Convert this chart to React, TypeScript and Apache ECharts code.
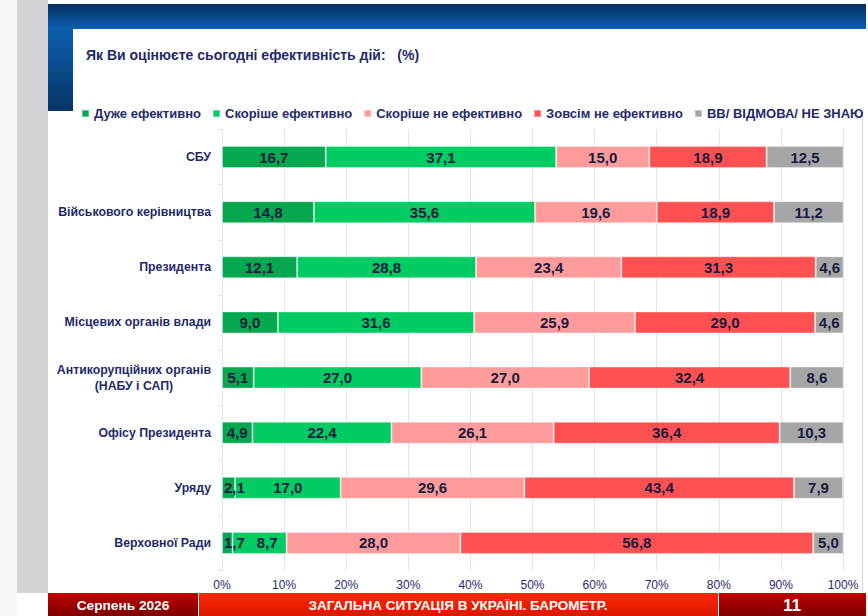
import React, { useEffect, useRef } from "react";
import * as echarts from "echarts";

const categories = [
    "СБУ",
    "Військового керівництва",
    "Президента",
    "Місцевих органів влади",
    "Антикорупційних органів\n(НАБУ і САП)",
    "Офісу Президента",
    "Уряду",
    "Верховної Ради",
];

const seriesNames = [
    "Дуже ефективно",
    "Скоріше ефективно",
    "Скоріше не ефективно",
    "Зовсім не ефективно",
    "ВВ/ ВІДМОВА/ НЕ ЗНАЮ",
];

const veryEffective = [16.7, 14.8, 12.1, 9.0, 5.1, 4.9, 2.1, 1.7];
const ratherEffective = [37.1, 35.6, 28.8, 31.6, 27.0, 22.4, 17.0, 8.7];
const ratherNotEffective = [15.0, 19.6, 23.4, 25.9, 27.0, 26.1, 29.6, 28.0];
const notEffectiveAtAll = [18.9, 18.9, 31.3, 29.0, 32.4, 36.4, 43.4, 56.8];
const dontKnow = [12.5, 11.2, 4.6, 4.6, 8.6, 10.3, 7.9, 5.0];

const xTicks = [0, 10, 20, 30, 40, 50, 60, 70, 80, 90, 100];

const colors = ["#05a84e", "#00cc63", "#ff9b9b", "#ff5151", "#a6a6a6"];
const navy = "#1f2a6b";
const font = "'Liberation Sans', Arial, sans-serif";

const gridLeft = 222;
const gridRight = 25;
const labelFont = `bold 15px ${font}`;

const fmt = (v: number) => v.toFixed(1).replace(".", ",");

const App: React.FC = () => {
    const chartRef = useRef<HTMLDivElement>(null);

    useEffect(() => {
        if (!chartRef.current) return;
        const chart = echarts.init(chartRef.current, undefined, { renderer: "svg" });

        const allSeries = [veryEffective, ratherEffective, ratherNotEffective, notEffectiveAtAll, dontKnow];

        // labels that do not fit their segment are pushed right, like the original slide
        const ctx = document.createElement("canvas").getContext("2d")!;
        ctx.font = labelFont;
        const pxPerUnit = (868 - gridLeft - gridRight) / 100;
        const offsets: number[][] = allSeries.map(() => []);
        categories.forEach((_, j) => {
            let start = 0;
            let prevRight = 0;
            allSeries.forEach((values, i) => {
                const v = values[j];
                const w = ctx.measureText(fmt(v)).width;
                const segStart = start * pxPerUnit;
                const center = (start + v / 2) * pxPerUnit;
                let left = center - w / 2;
                const minLeft = Math.max(segStart + 2, i === 0 ? 0 : prevRight + 12);
                let dx = 0;
                if (left < minLeft && (v * pxPerUnit < w + 4 || left < prevRight + 12)) {
                    dx = minLeft - left;
                    left = minLeft;
                }
                offsets[i][j] = dx;
                prevRight = left + w;
                start += v;
            });
        });

        const option = {
            animation: false,
            textStyle: { fontFamily: font },
            legend: {
                left: 76,
                top: 102,
                width: 800,
                itemWidth: 7,
                itemHeight: 7,
                itemGap: 11,
                icon: "rect",
                textStyle: { color: navy, fontWeight: "bold", fontSize: 13, fontFamily: font },
                data: seriesNames,
            },
            grid: { left: gridLeft, right: gridRight, top: 129.5, bottom: 45.5, containLabel: false },
            xAxis: {
                type: "value",
                min: 0,
                max: 100,
                interval: 10,
                axisLine: { show: false },
                axisTick: { show: false },
                axisLabel: {
                    color: navy,
                    fontSize: 12,
                    fontFamily: font,
                    margin: 8,
                    formatter: (v: number) => (xTicks.includes(v) ? v + "%" : ""),
                },
                splitLine: { lineStyle: { color: "#dbe4f6", width: 1 } },
            },
            yAxis: {
                type: "category",
                inverse: true,
                data: categories,
                axisLine: { show: true, lineStyle: { color: "#dfe6f3" } },
                axisTick: { show: true, length: 4, lineStyle: { color: "#d9e1ef" } },
                axisLabel: {
                    margin: 11,
                    formatter: (v: string) => v.split("\n").map((s) => `{c|${s}}`).join("\n"),
                    rich: {
                        c: {
                            align: "center",
                            color: navy,
                            fontWeight: "bold",
                            fontSize: 12.3,
                            lineHeight: 16,
                            fontFamily: font,
                        },
                    },
                },
            },
            series: allSeries.map((values, i) => ({
                name: seriesNames[i],
                type: "bar",
                stack: "total",
                barWidth: 22,
                data: values.map((v, j) => ({
                    value: v,
                    label: { offset: [offsets[i][j], 0] },
                })),
                itemStyle: {
                    color: colors[i],
                    borderColor: "rgba(255,255,255,0.35)",
                    borderWidth: 1,
                },
                label: {
                    show: true,
                    position: "inside",
                    color: "#171b40",
                    fontWeight: "bold",
                    fontSize: 15,
                    fontFamily: font,
                    formatter: (p: any) => fmt(Number(p.value)),
                },
            })),
            graphic: [
                { type: "rect", z: -20, shape: { x: 0, y: 0, width: 17, height: 616 }, style: { fill: "#f7f7f7" } },
                { type: "rect", z: -20, shape: { x: 17, y: 0, width: 31, height: 593 }, style: { fill: "#d4d4d6" } },
                { type: "line", z: -20, shape: { x1: 862.5, y1: 111, x2: 862.5, y2: 593 }, style: { stroke: "#d8d8d8", lineWidth: 1 } },
                {
                    type: "rect",
                    z: -10,
                    shape: { x: 48, y: 4, width: 818, height: 25 },
                    style: {
                        fill: new echarts.graphic.LinearGradient(0, 0, 0, 1, [
                            { offset: 0, color: "#042f60" },
                            { offset: 1, color: "#0c5fb0" },
                        ]),
                    },
                },
                {
                    type: "rect",
                    z: -10,
                    shape: { x: 48, y: 29, width: 25, height: 82 },
                    style: {
                        fill: new echarts.graphic.LinearGradient(0, 0, 0, 1, [
                            { offset: 0, color: "#0c5fb0" },
                            { offset: 1, color: "#053566" },
                        ]),
                    },
                },
                {
                    type: "text",
                    left: 86,
                    top: 48,
                    style: {
                        text: "Як Ви оцінюєте сьогодні ефективність дій:   (%)",
                        fill: navy,
                        font: `bold 14px ${font}`,
                    },
                },
                {
                    type: "rect",
                    shape: { x: 48, y: 593, width: 150, height: 23 },
                    style: {
                        fill: new echarts.graphic.LinearGradient(0, 0, 0, 1, [
                            { offset: 0, color: "#c00000" },
                            { offset: 1, color: "#7d0000" },
                        ]),
                    },
                },
                {
                    type: "rect",
                    shape: { x: 199, y: 593, width: 519, height: 23 },
                    style: {
                        fill: new echarts.graphic.LinearGradient(0, 0, 0, 1, [
                            { offset: 0, color: "#f52a00" },
                            { offset: 1, color: "#e01500" },
                        ]),
                    },
                },
                {
                    type: "rect",
                    shape: { x: 719, y: 593, width: 147, height: 23 },
                    style: {
                        fill: new echarts.graphic.LinearGradient(0, 0, 0, 1, [
                            { offset: 0, color: "#c00000" },
                            { offset: 1, color: "#7d0000" },
                        ]),
                    },
                },
                {
                    type: "text",
                    x: 123,
                    y: 605,
                    style: {
                        text: "Серпень 2026",
                        fill: "#ffffff",
                        font: `bold 13.7px ${font}`,
                        align: "center",
                        verticalAlign: "middle",
                    },
                },
                {
                    type: "text",
                    x: 458,
                    y: 605,
                    style: {
                        text: "ЗАГАЛЬНА СИТУАЦІЯ В УКРАЇНІ. БАРОМЕТР.",
                        fill: "#ffffff",
                        font: `bold 13.5px ${font}`,
                        align: "center",
                        verticalAlign: "middle",
                    },
                },
                {
                    type: "text",
                    x: 792,
                    y: 605,
                    style: {
                        text: "11",
                        fill: "#ffffff",
                        font: `bold 17px ${font}`,
                        align: "center",
                        verticalAlign: "middle",
                    },
                },
            ],
        };

        chart.setOption(option);

        return () => {
            chart.dispose();
        };
    }, []);

    return (
        <div
            ref={chartRef}
            style={{ position: "fixed", left: 0, top: 0, width: 868, height: 616, background: "#ffffff" }}
        />
    );
};

export default App;
